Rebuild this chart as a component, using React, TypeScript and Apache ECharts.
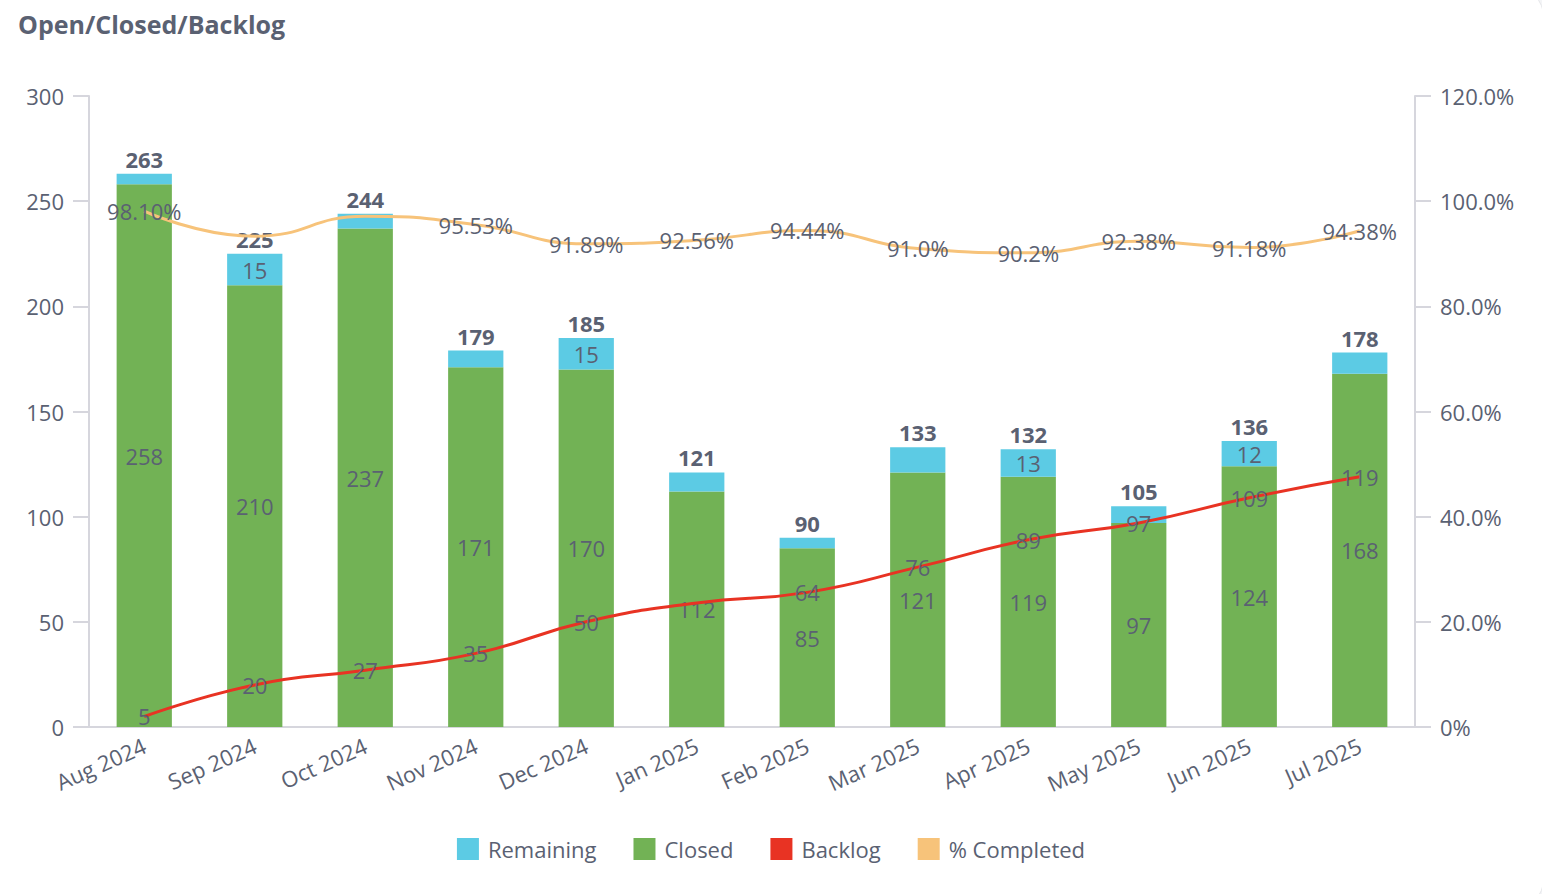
import React, { useEffect, useRef } from "react";
import * as echarts from "echarts";

const categories = ["Aug 2024", "Sep 2024", "Oct 2024", "Nov 2024", "Dec 2024", "Jan 2025", "Feb 2025", "Mar 2025", "Apr 2025", "May 2025", "Jun 2025", "Jul 2025"];
const closed = [258, 210, 237, 171, 170, 112, 85, 121, 119, 97, 124, 168];
const remaining = [5, 15, 7, 8, 15, 9, 5, 12, 13, 8, 12, 10];
const totals = [263, 225, 244, 179, 185, 121, 90, 133, 132, 105, 136, 178];
const backlog = [5, 20, 27, 35, 50, 59, 64, 76, 89, 97, 109, 119];
const pctCompleted = ["98.10", "93.33", "97.13", "95.53", "91.89", "92.56", "94.44", "91.0", "90.2", "92.38", "91.18", "94.38"];
const shownRemainingLabels = [1, 4, 8, 10];
const hiddenPctLabels = [1, 2];
const hiddenBacklogLabels = [5];
const leftTicks = [0, 50, 100, 150, 200, 250, 300];
const rightTicks = [0, 20, 40, 60, 80, 100, 120];

const TEXT = "#5a6172";
const AXIS = "#d6d6dd";
const FONT = "'Open Sans', 'Noto Sans', sans-serif";
const FS = 22;

export default function App() {
  const ref = useRef<HTMLDivElement>(null);
  useEffect(() => {
    if (!ref.current) return;
    const chart = echarts.init(ref.current, null, { renderer: "svg" });
    const labelBase = { color: TEXT, fontSize: FS, fontFamily: FONT };
    chart.setOption({
      animation: false,
      backgroundColor: "transparent",
      textStyle: { fontFamily: FONT },
      title: {
        text: "Open/Closed/Backlog",
        left: 18,
        top: 11,
        padding: 0,
        textStyle: { color: TEXT, fontSize: 25, fontWeight: "bold", fontFamily: FONT },
      },
      legend: {
        top: 833,
        left: "center",
        icon: "rect",
        itemWidth: 22,
        itemHeight: 22,
        itemGap: 37,
        data: ["Remaining", "Closed", "Backlog", "% Completed"],
        textStyle: { color: TEXT, fontSize: FS, fontFamily: FONT, padding: [0, 0, 0, 4] },
      },
      grid: { left: 89, right: 127, top: 96, bottom: 167 },
      xAxis: {
        type: "category",
        data: categories,
        axisLine: { lineStyle: { color: AXIS, width: 2 } },
        axisTick: { show: false },
        axisLabel: { rotate: 24, color: TEXT, fontSize: FS, fontFamily: FONT, margin: 17, interval: 0 },
      },
      yAxis: [
        {
          type: "value",
          min: leftTicks[0],
          max: leftTicks[leftTicks.length - 1],
          interval: leftTicks[1] - leftTicks[0],
          axisLine: { show: true, lineStyle: { color: AXIS, width: 2 } },
          axisTick: { show: true, length: 16, lineStyle: { color: AXIS, width: 2 } },
          splitLine: { show: false },
          axisLabel: { color: TEXT, fontSize: FS, fontFamily: FONT, margin: 25 },
        },
        {
          type: "value",
          min: rightTicks[0],
          max: rightTicks[rightTicks.length - 1],
          interval: rightTicks[1] - rightTicks[0],
          axisLine: { show: true, lineStyle: { color: AXIS, width: 2 } },
          axisTick: { show: true, length: 16, lineStyle: { color: AXIS, width: 2 } },
          splitLine: { show: false },
          axisLabel: {
            color: TEXT,
            fontSize: FS,
            fontFamily: FONT,
            margin: 25,
            formatter: (v: number) => (v === 0 ? "0%" : v.toFixed(1) + "%"),
          },
        },
      ],
      series: [
        {
          name: "Closed",
          type: "bar",
          stack: "total",
          barWidth: "50%",
          itemStyle: { color: "#72b255" },
          label: { show: true, position: "inside", ...labelBase },
          data: closed,
        },
        {
          name: "Remaining",
          type: "bar",
          stack: "total",
          itemStyle: { color: "#5ccbe4" },
          label: { show: true, position: "inside", ...labelBase },
          data: remaining.map((v, i) => ({ value: v, label: { show: shownRemainingLabels.includes(i) } })),
        },
        {
          name: "Total",
          type: "bar",
          stack: "total",
          itemStyle: { color: "transparent" },
          label: {
            show: true,
            position: "top",
            distance: 4,
            ...labelBase,
            fontWeight: "bold",
            formatter: (p: any) => String(totals[p.dataIndex]),
          },
          data: totals.map(() => 0),
        },
        {
          name: "Backlog",
          type: "line",
          smooth: true,
          symbol: "circle",
          symbolSize: 0.1,
          lineStyle: { color: "#e83323", width: 3 },
          itemStyle: { color: "#e83323" },
          label: { show: true, position: "inside", ...labelBase },
          data: backlog.map((v, i) => ({ value: v, label: { show: !hiddenBacklogLabels.includes(i) } })),
          z: 3,
        },
        {
          name: "% Completed",
          type: "line",
          yAxisIndex: 1,
          smooth: true,
          symbol: "circle",
          symbolSize: 0.1,
          lineStyle: { color: "#f7c37a", width: 3 },
          itemStyle: { color: "#f7c37a" },
          label: {
            show: true,
            position: "inside",
            ...labelBase,
            formatter: (p: any) => pctCompleted[p.dataIndex] + "%",
          },
          data: pctCompleted.map((s, i) => ({ value: parseFloat(s), label: { show: !hiddenPctLabels.includes(i) } })),
          z: 3,
        },
      ],
    });
    return () => chart.dispose();
  }, []);
  return (
    <div
      style={{
        position: "fixed",
        left: 0,
        top: 0,
        width: 1542,
        height: 894,
        background: "#f4f5f7",
      }}
    >
      <div
        style={{
          position: "absolute",
          left: -12,
          top: -12,
          width: 1554,
          height: 918,
          background: "#fff",
          borderRadius: 28,
          border: "1px solid #e6e7ea",
        }}
      />
      <div ref={ref} style={{ position: "absolute", left: 0, top: 0, width: 1542, height: 894 }} />
    </div>
  );
}
